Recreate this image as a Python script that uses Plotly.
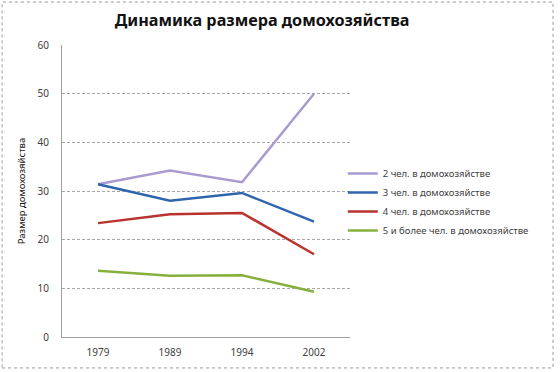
import plotly.graph_objects as go

years = ["1979", "1989", "1994", "2002"]
s2 = [31.4, 34.2, 31.8, 50.0]
s3 = [31.4, 28.0, 29.6, 23.7]
s4 = [23.4, 25.2, 25.5, 17.0]
s5 = [13.6, 12.6, 12.7, 9.3]
names = ["2 чел. в домохозяйстве", "3 чел. в домохозяйстве",
         "4 чел. в домохозяйстве", "5 и более чел. в домохозяйстве"]
colors = ["#A99BD0", "#2F65AE", "#B8322E", "#86B03E"]

fig = go.Figure()
for vals, nm, c in zip([s2, s3, s4, s5], names, colors):
    fig.add_trace(go.Scatter(x=years, y=vals, name=nm, mode="lines",
                             line=dict(color=c, width=2.5)))

font = "Noto Sans"
fig.update_layout(
    width=560, height=372,
    margin=dict(l=62, r=210, t=45, b=35),
    paper_bgcolor="white", plot_bgcolor="white",
    font=dict(family=font, size=10, color="#404040"),
    title=dict(text="<b>Динамика размера домохозяйства</b>", x=0.468, xanchor="center",
               xref="container", yref="container", y=0.945, yanchor="middle",
               font=dict(family=font, size=16.2, color="#111111")),
    showlegend=True,
    legend=dict(x=0.975, y=0.61, xanchor="left", yanchor="top",
                font=dict(family=font, size=9.5, color="#404040"),
                tracegroupgap=0, itemwidth=30, bgcolor="rgba(0,0,0,0)"),
    xaxis=dict(type="category", showgrid=False, showline=True, linecolor="#A0A0A0",
               ticks="", tickfont=dict(size=10), range=[-0.5, 3.5], ticklabelstandoff=6),
    yaxis=dict(range=[0, 60], dtick=10, showgrid=True, gridcolor="#A8A8A8",
               griddash="3px,2px", gridwidth=1, showline=True, linecolor="#A0A0A0",
               zeroline=False, ticks="", tickfont=dict(size=10), ticklabelstandoff=10,
               title=dict(text="Размер домохозяйства", font=dict(size=9.5, color="#111111"),
                          standoff=10)),
)
fig.add_shape(type="rect", xref="paper", yref="paper",
              x0=-0.208, x1=1.705, y0=-0.106, y1=1.147,
              line=dict(color="#9A9A9A", width=1, dash="dot"))
fig.write_html("out.html", config={"displayModeBar": False},
               post_script="document.body.style.margin='0';")
